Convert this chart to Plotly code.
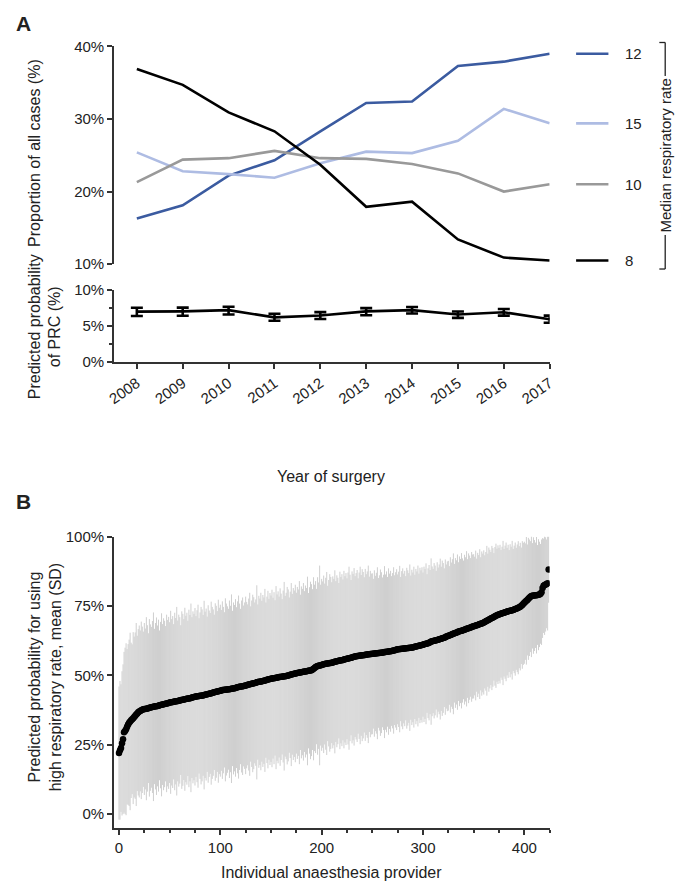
import plotly.graph_objects as go

# ---- panel A data ----
years = [2008, 2009, 2010, 2011, 2012, 2013, 2014, 2015, 2016, 2017]
rr_12 = [16.3, 18.1, 22.2, 24.3, 28.3, 32.2, 32.4, 37.3, 37.9, 39.0]
rr_15 = [25.4, 22.8, 22.4, 21.9, 23.9, 25.5, 25.3, 27.0, 31.4, 29.4]
rr_10 = [21.3, 24.4, 24.6, 25.6, 24.6, 24.5, 23.8, 22.5, 20.0, 21.0]
rr_8 = [36.9, 34.7, 30.9, 28.3, 23.7, 17.9, 18.6, 13.4, 10.9, 10.5]
prc = [6.96, 7.00, 7.17, 6.18, 6.44, 7.00, 7.17, 6.57, 6.88, 5.92]
prc_hi = [7.50, 7.52, 7.64, 6.68, 6.90, 7.45, 7.60, 6.99, 7.32, 6.42]
prc_lo = [6.36, 6.40, 6.57, 5.71, 5.95, 6.47, 6.70, 6.10, 6.42, 5.43]

# ---- panel B data (mean and SD, %) ----
prov_mean = [
    22.0, 23.0, 23.8, 25.5, 27.0, 29.5, 30.0, 30.6, 31.5, 32.3, 32.9, 33.4, 33.8, 34.2, 34.6, 35.0, 35.5, 35.9, 36.3, 36.7, 37.0, 37.2, 37.4, 37.6, 37.8,
    37.9, 37.9, 38.0, 38.1, 38.2, 38.3, 38.4, 38.5, 38.6, 38.7, 38.8, 38.9, 38.9, 39.0, 39.1, 39.2, 39.3, 39.4, 39.5, 39.6, 39.7, 39.8, 39.9, 40.0, 40.1,
    40.2, 40.3, 40.3, 40.4, 40.5, 40.6, 40.7, 40.7, 40.8, 40.9, 41.0, 41.1, 41.1, 41.2, 41.3, 41.4, 41.5, 41.6, 41.7, 41.7, 41.8, 41.9, 42.0, 42.1, 42.2,
    42.3, 42.4, 42.5, 42.5, 42.6, 42.7, 42.7, 42.8, 42.8, 42.9, 43.0, 43.1, 43.2, 43.3, 43.4, 43.5, 43.6, 43.7, 43.8, 43.9, 44.0, 44.1, 44.2, 44.3, 44.4,
    44.5, 44.6, 44.7, 44.7, 44.8, 44.8, 44.9, 44.9, 45.0, 45.0, 45.1, 45.2, 45.3, 45.3, 45.4, 45.5, 45.6, 45.7, 45.8, 45.9, 46.0, 46.0, 46.1, 46.2, 46.3,
    46.4, 46.5, 46.6, 46.7, 46.8, 46.9, 47.0, 47.1, 47.2, 47.3, 47.4, 47.5, 47.6, 47.7, 47.7, 47.8, 47.9, 48.0, 48.1, 48.2, 48.3, 48.4, 48.5, 48.6, 48.7,
    48.8, 48.9, 49.0, 49.0, 49.1, 49.2, 49.2, 49.3, 49.4, 49.4, 49.5, 49.5, 49.6, 49.7, 49.7, 49.8, 49.9, 50.0, 50.1, 50.2, 50.3, 50.4, 50.5, 50.6, 50.7,
    50.8, 50.9, 51.0, 51.0, 51.1, 51.1, 51.2, 51.3, 51.4, 51.4, 51.5, 51.6, 51.7, 51.8, 51.8, 51.9, 52.1, 52.4, 52.7, 53.0, 53.2, 53.4, 53.5, 53.6, 53.7,
    53.8, 53.9, 54.0, 54.1, 54.2, 54.3, 54.3, 54.4, 54.5, 54.5, 54.6, 54.7, 54.8, 54.9, 55.0, 55.1, 55.2, 55.3, 55.4, 55.5, 55.5, 55.6, 55.7, 55.8, 55.9,
    56.0, 56.1, 56.2, 56.3, 56.4, 56.5, 56.6, 56.7, 56.8, 56.9, 57.0, 57.0, 57.1, 57.2, 57.2, 57.3, 57.3, 57.4, 57.4, 57.5, 57.5, 57.6, 57.6, 57.7, 57.7,
    57.8, 57.8, 57.9, 57.9, 58.0, 58.0, 58.1, 58.1, 58.2, 58.2, 58.3, 58.3, 58.4, 58.4, 58.5, 58.5, 58.6, 58.7, 58.7, 58.8, 58.9, 59.0, 59.1, 59.2, 59.3,
    59.4, 59.4, 59.5, 59.5, 59.6, 59.6, 59.7, 59.7, 59.8, 59.8, 59.9, 59.9, 60.0, 60.0, 60.1, 60.1, 60.2, 60.3, 60.4, 60.5, 60.6, 60.7, 60.8, 60.9, 61.0,
    61.1, 61.2, 61.3, 61.4, 61.5, 61.6, 61.8, 62.0, 62.2, 62.3, 62.4, 62.5, 62.6, 62.7, 62.8, 62.9, 63.0, 63.1, 63.2, 63.4, 63.5, 63.6, 63.8, 64.0, 64.1,
    64.3, 64.4, 64.6, 64.7, 64.9, 65.0, 65.2, 65.3, 65.5, 65.6, 65.8, 65.9, 66.0, 66.1, 66.2, 66.4, 66.5, 66.6, 66.8, 66.9, 67.0, 67.2, 67.3, 67.5, 67.6,
    67.7, 67.8, 68.0, 68.1, 68.2, 68.4, 68.5, 68.6, 68.7, 68.9, 69.1, 69.3, 69.5, 69.7, 69.9, 70.1, 70.3, 70.5, 70.7, 70.9, 71.1, 71.3, 71.5, 71.7, 71.9,
    72.0, 72.1, 72.2, 72.4, 72.5, 72.6, 72.8, 72.9, 73.0, 73.1, 73.2, 73.3, 73.4, 73.5, 73.6, 73.8, 73.9, 74.0, 74.2, 74.4, 74.6, 74.8, 75.1, 75.4, 75.8,
    76.2, 76.6, 76.9, 77.2, 77.6, 78.0, 78.4, 78.6, 78.7, 78.8, 78.8, 78.9, 78.9, 79.0, 79.1, 79.2, 79.4, 80.0, 81.5, 82.3, 82.6, 82.8, 83.0, 83.2, 88.2,
]
prov_sd = [
    24, 25, 23, 26, 27, 29, 30, 31, 28, 29, 30, 32, 28, 27, 31, 29, 30, 33, 28, 30, 31, 29, 32, 30, 28,
    31, 29, 33, 30, 27, 32, 30, 29, 31, 34, 28, 30, 32, 29, 31, 27, 30, 33, 29, 31, 30, 28, 32, 30, 31,
    29, 33, 30, 31, 28, 32, 30, 34, 29, 31, 30, 27, 32, 31, 29, 33, 30, 31, 28, 32, 30, 34, 29, 31, 30,
    32, 29, 31, 33, 28, 30, 32, 31, 29, 34, 30, 31, 28, 32, 30, 29, 33, 31, 30, 28, 32, 31, 29, 33, 30,
    31, 29, 32, 30, 28, 33, 31, 30, 29, 32, 30, 34, 28, 31, 30, 32, 29, 31, 33, 30, 28, 31, 32, 29, 30,
    32, 30, 29, 31, 33, 28, 30, 32, 31, 29, 30, 35, 28, 31, 30, 32, 29, 31, 30, 33, 28, 30, 32, 29, 31,
    30, 32, 29, 31, 28, 33, 30, 31, 29, 32, 30, 28, 31, 34, 29, 30, 32, 31, 28, 30, 33, 29, 31, 30, 32,
    29, 31, 30, 33, 28, 31, 30, 32, 29, 31, 30, 34, 28, 30, 32, 31, 29, 33, 30, 31, 28, 32, 30, 36, 29,
    31, 30, 32, 29, 31, 33, 28, 30, 32, 31, 29, 31, 30, 33, 29, 31, 30, 28, 32, 30, 31, 29, 32, 30, 31,
    29, 31, 33, 30, 28, 31, 30, 32, 29, 30, 31, 28, 30, 32, 29, 31, 30, 28, 31, 29, 30, 32, 28, 30, 29,
    29, 27, 30, 28, 29, 31, 27, 28, 30, 29, 27, 28, 31, 28, 29, 27, 30, 28, 29, 27, 28, 30, 27, 28, 29,
    27, 28, 30, 26, 28, 29, 27, 28, 26, 29, 28, 27, 30, 26, 28, 27, 29, 26, 28, 27, 29, 26, 28, 27, 28,
    26, 28, 27, 29, 25, 27, 28, 26, 30, 27, 26, 28, 27, 25, 28, 26, 27, 29, 26, 28, 27, 25, 28, 26, 27,
    27, 25, 28, 26, 27, 29, 25, 27, 26, 28, 25, 27, 26, 28, 26, 25, 27, 26, 28, 25, 27, 26, 25, 27, 26,
    26, 25, 27, 24, 26, 25, 27, 24, 26, 25, 26, 24, 25, 27, 24, 26, 25, 24, 26, 25, 23, 25, 26, 24, 25,
    24, 25, 23, 24, 26, 23, 24, 25, 23, 24, 22, 24, 23, 25, 22, 23, 24, 22, 23, 24, 22, 23, 21, 23, 22,
    22, 21, 23, 20, 22, 21, 20, 22, 19, 21, 20, 19, 21, 18, 20, 19, 18, 19, 18, 17, 18, 17, 16, 17, 12,
]
providers = list(range(len(prov_mean)))

FONT = "Liberation Sans, Arial, sans-serif"
INK = "#222222"
# page body has an 8px margin, so the figure is drawn 16px smaller
OFF = 8
W, H = 689 - 2 * OFF, 893 - 2 * OFF


def px(x):  # reference pixel -> paper x
    return (x - OFF) / W


def py(y):  # reference pixel -> paper y
    return 1 - (y - OFF) / H


series = [("12", rr_12, "#3b5ba0"), ("15", rr_15, "#aebce3"),
          ("10", rr_10, "#999999"), ("8", rr_8, "#000000")]

fig = go.Figure()
for name, vals, col in series:
    fig.add_trace(go.Scatter(x=years, y=vals, mode="lines", name=name,
                             line=dict(color=col, width=2.6), xaxis="x", yaxis="y",
                             showlegend=False))

fig.add_trace(go.Scatter(
    x=years, y=prc, mode="lines", xaxis="x2", yaxis="y2", showlegend=False,
    line=dict(color="black", width=2.6),
    error_y=dict(type="data", symmetric=False,
                 array=[h - m for h, m in zip(prc_hi, prc)],
                 arrayminus=[m - l for m, l in zip(prc, prc_lo)],
                 color="black", thickness=2.6, width=6)))

fig.add_trace(go.Scatter(
    x=providers, y=prov_mean, mode="markers", xaxis="x3", yaxis="y3", showlegend=False,
    marker=dict(size=1, color="rgba(0,0,0,0)"),
    error_y=dict(type="data", array=prov_sd, color="#cfcfcf", thickness=1, width=0)))
fig.add_trace(go.Scatter(
    x=providers, y=prov_mean, mode="markers", xaxis="x3", yaxis="y3", showlegend=False,
    marker=dict(size=6.5, color="black")))

xd = [px(108), px(553)]

axis_common = dict(showline=True, linecolor="#333333", linewidth=1.5, ticks="outside",
                   ticklen=5, tickwidth=1.5, tickcolor="#333333", showgrid=False,
                   zeroline=False, tickfont=dict(size=15, color=INK, family=FONT))


def pct(vals):
    return [f"{v}%" for v in vals]


fig.update_layout(
    width=W, height=H, margin=dict(l=0, r=0, t=0, b=0),
    paper_bgcolor="white", plot_bgcolor="white",
    font=dict(family=FONT, color=INK, size=15),
    xaxis=dict(domain=xd, range=[2007.5, 2017], visible=False, anchor="y"),
    yaxis=dict(domain=[py(260), py(38)], range=[10, 40], tickvals=[10, 20, 30, 40],
               ticktext=pct([10, 20, 30, 40]), anchor="x", **axis_common),
    xaxis2=dict(domain=xd, range=[2007.5, 2017], tickvals=years, tickangle=-35,
                anchor="y2", **axis_common),
    yaxis2=dict(domain=[py(360), py(286)], range=[0, 10], tickvals=[0, 5, 10],
                ticktext=pct([0, 5, 10]), anchor="x2",
                minor=dict(dtick=2.5, ticks="outside", ticklen=3, tickcolor="#333333"),
                **axis_common),
    xaxis3=dict(domain=xd, range=[-5, 425], tickvals=[0, 100, 200, 300, 400], anchor="y3",
                minor=dict(dtick=25, tick0=0, ticks="outside", ticklen=3, tickcolor="#333333"),
                **axis_common),
    yaxis3=dict(domain=[py(835), py(538)], range=[-5, 100], tickvals=[0, 25, 50, 75, 100],
                ticktext=pct([0, 25, 50, 75, 100]), anchor="x3", **axis_common),
)


def note(text, x, y, size=16, angle=0, **kw):
    return dict(text=text, x=px(x), y=py(y), xref="paper", yref="paper", showarrow=False,
                xanchor="center", yanchor="middle", textangle=angle,
                font=dict(size=size, color=INK), **kw)


ann = [
    note("<b>A</b>", 16, 15, size=21),
    note("<b>B</b>", 16, 502, size=21),
    note("Proportion of all cases (%)", 27, 147, angle=-90),
    note("Predicted probability<br>of PRC (%)", 37, 324, angle=-90),
    note("Year of surgery", 330, 477),
    note("Predicted probability for using<br>high respiratory rate, mean (SD)", 38, 681, angle=-90),
    note("Individual anaesthesia provider", 330, 880),
]

shapes = []
for name, vals, col in series:
    shapes.append(dict(type="line", xref="paper", yref="y", x0=px(580), x1=px(613),
                       y0=vals[-1], y1=vals[-1], line=dict(color=col, width=2.6)))
    ann.append(dict(text=name, x=px(628), y=vals[-1], xref="paper", yref="y",
                    xanchor="left", yanchor="middle", showarrow=False,
                    font=dict(size=15, color=INK)))

# bracket for "Median respiratory rate"
bk = dict(color="#222222", width=1.3)
shapes.append(dict(type="line", xref="paper", yref="paper", x0=px(671), x1=px(671),
                   y0=py(34), y1=py(265), line=bk))
shapes.append(dict(type="line", xref="paper", yref="paper", x0=px(665), x1=px(671),
                   y0=py(34), y1=py(34), line=bk))
shapes.append(dict(type="line", xref="paper", yref="paper", x0=px(665), x1=px(671),
                   y0=py(265), y1=py(265), line=bk))
ann.append(note("Median respiratory rate", 671, 149, size=15, angle=-90,
                bgcolor="white", borderpad=2))

fig.update_layout(annotations=ann, shapes=shapes)
fig.write_html("out.html")
